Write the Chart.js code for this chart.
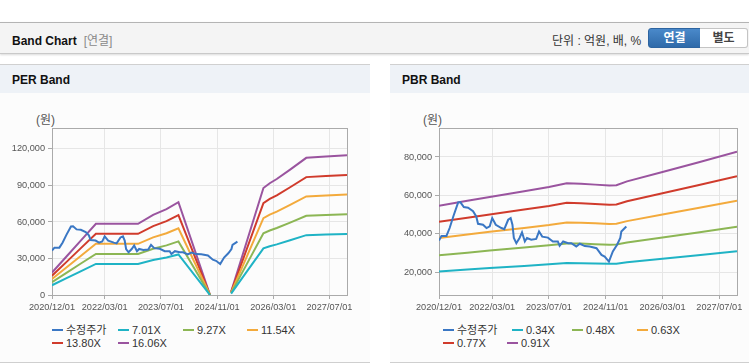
<!DOCTYPE html>
<html lang="ko">
<head>
<meta charset="utf-8">
<title>Band Chart</title>
<script src="https://cdn.jsdelivr.net/npm/chart.js@4.4.1/dist/chart.umd.min.js"></script>
<style>
  body { margin: 0; width: 749px; height: 364px; position: relative; overflow: hidden; background: #fff;
         font-family: "Liberation Sans", "Noto Sans CJK KR", sans-serif; }
  .topbar { position: absolute; left: 0; top: 22px; width: 749px; height: 30px; background: #f4f4f4;
            border-top: 1px solid #b4b4b4; border-bottom: 1px solid #c9c9c9; box-shadow: 0 1px 2px rgba(0,0,0,0.15); }
  .topbar .ttl { position: absolute; left: 12px; top: 8px; font-size: 12px; font-weight: bold; color: #111; }
  .topbar .ttl span { color: #8a8a8a; font-weight: normal; margin-left: 7px; }
  .unit { position: absolute; left: 552px; top: 8px; font-size: 12px; color: #333; }
  .btn { position: absolute; top: 5px; height: 18px; line-height: 18px; text-align: center; font-size: 12px; font-weight: bold; }
  .btn.on { left: 648px; width: 51px; background: linear-gradient(#4a89ca, #2f6aa9); color: #fff; border: 1px solid #2d64a0; border-radius: 3px 0 0 3px; }
  .btn.off { left: 700px; width: 47px; background: #fff; color: #444; border: 1px solid #c4c4c4; border-left: none; border-radius: 0 3px 3px 0; }
  .panel { position: absolute; top: 64px; height: 297px; background: #fcfcfc; border-top: 1px solid #d0d0d0; border-bottom: 1px solid #cfcfcf; }
  .panel .head { height: 28px; background: #eef2f7; }
  .panel .head b { position: absolute; left: 12px; top: 8px; font-size: 12px; color: #111; }
  .unitlbl { position: absolute; top: 110px; font-size: 12px; color: #555; }
  canvas { position: absolute; top: 93px; }
  .lg { position: absolute; font-size: 11px; color: #333; white-space: nowrap; height: 14px; line-height: 14px; }
  .lg i { display: inline-block; width: 11px; height: 2px; vertical-align: middle; margin-right: 3px; position: relative; top: -1px; }
</style>
</head>
<body>
<div class="topbar">
  <div class="ttl">Band Chart<span>[연결]</span></div>
  <div class="unit">단위 : 억원, 배, %</div>
  <div class="btn on">연결</div>
  <div class="btn off">별도</div>
</div>
<div class="panel" style="left:0;width:370px"><div class="head"><b>PER Band</b></div></div>
<div class="panel" style="left:390px;width:359px"><div class="head"><b style="left:12px">PBR Band</b></div></div>
<div class="unitlbl" style="left:36px">(원)</div>
<div class="unitlbl" style="left:423px">(원)</div>
<canvas id="perChart" width="370" height="230" style="left:0"></canvas>
<canvas id="pbrChart" width="359" height="230" style="left:390px"></canvas>
<div id="legends"></div>

<script>
// x = months since 2020/12/01
const xTickMonths = [0, 15, 31, 47, 63, 79];
const xTickLabels = ['2020/12/01', '2022/03/01', '2023/07/01', '2024/11/01', '2026/03/01', '2027/07/01'];

// 수정주가 (same series in both charts)
const priceMonths = [0, 0.7, 2.1, 3.0, 4.1, 5.4, 6.0, 7.0, 8.2, 9.6, 10.5, 11.0, 12.4, 13.4, 14.3, 15.0, 16.0, 17.6, 18.4,
  19.5, 20.2, 20.7, 21.1, 21.8, 22.7, 23.4, 24.2, 24.8, 26.0, 27.4, 28.2, 29.1, 30.7, 32.1, 33.5, 34.0, 35.0, 36.4,
  37.3, 38.7, 39.7, 41.1, 42.5, 44.4, 45.8, 46.7, 47.9, 49.0, 50.2, 51.1, 51.4, 52.8];
const priceValues = [36500, 38900, 38900, 43000, 49400, 56300, 56500, 53900, 53600, 51700, 49000, 45200, 44700, 43000,
  43900, 48200, 44700, 43000, 42400, 47300, 48200, 44700, 37800, 35100, 37800, 40700, 36000, 37800, 36900, 37300,
  41200, 38500, 38000, 36000, 36000, 33700, 36000, 35100, 35100, 33400, 34800, 33600, 33400, 32500, 29000, 28100,
  25500, 30800, 34300, 37800, 41200, 43800];

// PER band
const perMonths = [0, 4, 8, 12.5, 24.5, 28.8, 32.6, 36, 45, 48, 51, 55, 60.2, 62, 64, 67.8, 72.4, 78, 84];
const per701 = [8030, 13620, 19250, 25540, 25540, 28770, 30820, 33300, 0, null, 1180, 17330, 38370, 40070, 41600, 44960, 49190, 49630, 50110];
const per927 = [10620, 18010, 25450, 33770, 33770, 38040, 40750, 44040, 0, null, 1560, 22910, 50740, 52990, 55010, 59450, 65050, 65630, 66260];
const per1154 = [13220, 22420, 31690, 42040, 42040, 47360, 50730, 54830, 0, null, 1940, 28530, 63170, 65970, 68480, 74020, 80990, 81710, 82500];
const per1380 = [15810, 26810, 37900, 50270, 50270, 56630, 60670, 65570, 0, null, 2320, 34110, 75530, 78880, 81890, 88510, 96840, 97700, 98650];
const per1606 = [18400, 31200, 44100, 58500, 58500, 65900, 70600, 76300, 0, null, 2700, 39700, 87900, 91800, 95300, 103000, 112700, 113700, 114800];
const perYTicks = [0, 30000, 60000, 90000, 120000];
const perLabels = ['수정주가', '7.01X', '9.27X', '11.54X', '13.80X', '16.06X'];

// PBR band
const pbrMonths = [0, 8, 14.3, 24, 31, 36, 40, 44, 48, 50, 53, 63, 73, 84];
const pbr034 = [20400, 21370, 22120, 23240, 24060, 24770, 24700, 24510, 24320, 24400, 25150, 26980, 28810, 30900];
const pbr048 = [28800, 30170, 31230, 32810, 33970, 34970, 34870, 34600, 34340, 34440, 35500, 38080, 40670, 43620];
const pbr063 = [37800, 39600, 40990, 43060, 44590, 45900, 45760, 45420, 45070, 45210, 46590, 49990, 53380, 57250];
const pbr077 = [46200, 48400, 50090, 52630, 54490, 56100, 55930, 55510, 55080, 55250, 56950, 61090, 65240, 69980];
const pbr091 = [54600, 57200, 59200, 62200, 64400, 66300, 66100, 65600, 65100, 65300, 67300, 72200, 77100, 82700];
const pbrYTicks = [20000, 40000, 60000, 80000];
const pbrLabels = ['수정주가', '0.34X', '0.48X', '0.63X', '0.77X', '0.91X'];

const colors = ['#3a77c4', '#1fb3c5', '#8cb654', '#f3aa3c', '#d03b2c', '#9a549f'];

function pts(xs, ys) {
  return xs.map((x, i) => ({ x: x, y: ys[i] }));
}

// light frame around the plot area
const frame = {
  id: 'frame',
  beforeDatasetsDraw(chart) {
    const a = chart.chartArea, c = chart.ctx;
    c.save();
    c.strokeStyle = '#aaaaaa';
    c.lineWidth = 1;
    c.strokeRect(Math.round(a.left) + 0.5, Math.round(a.top) + 0.5, Math.round(a.right - a.left), Math.round(a.bottom - a.top));
    c.restore();
  }
};

function makeChart(id, labels, series, yMin, yMax, yTicks, yWidth, padRight) {
  const tickFont = { family: 'Liberation Sans', size: 9.2 };
  new Chart(document.getElementById(id), {
    type: 'line',
    data: {
      datasets: series.map((s, i) => ({
        label: labels[i],
        data: s,
        borderColor: colors[i],
        backgroundColor: colors[i],
        borderWidth: 2,
        pointRadius: 0,
        tension: 0,
        spanGaps: false
      }))
    },
    options: {
      responsive: false,
      animation: false,
      events: [],
      layout: { padding: { top: 35, right: padRight, left: 0, bottom: 0 } },
      plugins: { legend: { display: false }, tooltip: { enabled: false } },
      scales: {
        x: {
          type: 'linear',
          min: 0,
          max: 84,
          afterBuildTicks: axis => { axis.ticks = xTickMonths.map(v => ({ value: v })); },
          afterFit: axis => { axis.height = 28; },
          ticks: {
            autoSkip: false,
            maxRotation: 0,
            padding: 3,
            color: '#555',
            font: tickFont,
            callback: v => xTickLabels[xTickMonths.indexOf(v)]
          },
          grid: { color: '#e6e6e6', tickColor: '#aaaaaa', tickLength: 4 },
          border: { color: '#aaaaaa' }
        },
        y: {
          min: yMin,
          max: yMax,
          afterBuildTicks: axis => { axis.ticks = yTicks.map(v => ({ value: v })); },
          afterFit: axis => { axis.width = yWidth; },
          ticks: {
            padding: 3,
            color: '#555',
            font: tickFont,
            callback: v => v.toLocaleString('en-US')
          },
          grid: { color: '#e6e6e6', tickColor: '#aaaaaa', tickLength: 4 },
          border: { color: '#aaaaaa' }
        }
      }
    },
    plugins: [frame]
  });
}

makeChart('perChart', perLabels, [
  pts(priceMonths, priceValues), pts(perMonths, per701), pts(perMonths, per927),
  pts(perMonths, per1154), pts(perMonths, per1380), pts(perMonths, per1606)
], 0, 137200, perYTicks, 52, 23);

makeChart('pbrChart', pbrLabels, [
  pts(priceMonths, priceValues), pts(pbrMonths, pbr034), pts(pbrMonths, pbr048),
  pts(pbrMonths, pbr063), pts(pbrMonths, pbr077), pts(pbrMonths, pbr091)
], 8100, 95100, pbrYTicks, 49, 12);

// HTML legends
function legend(labels, row1, row2) {
  const box = document.getElementById('legends');
  labels.forEach((t, i) => {
    const d = document.createElement('div');
    d.className = 'lg';
    const left = i < 4 ? row1[i] : row2[i - 4];
    d.style.left = left + 'px';
    d.style.top = (i < 4 ? 323 : 336) + 'px';
    d.innerHTML = '<i style="background:' + colors[i] + '"></i>' + t;
    box.appendChild(d);
  });
}
legend(perLabels, [52, 118, 183, 247], [52, 118]);
legend(pbrLabels, [443, 512, 572, 637], [443, 507]);
</script>
</body>
</html>
